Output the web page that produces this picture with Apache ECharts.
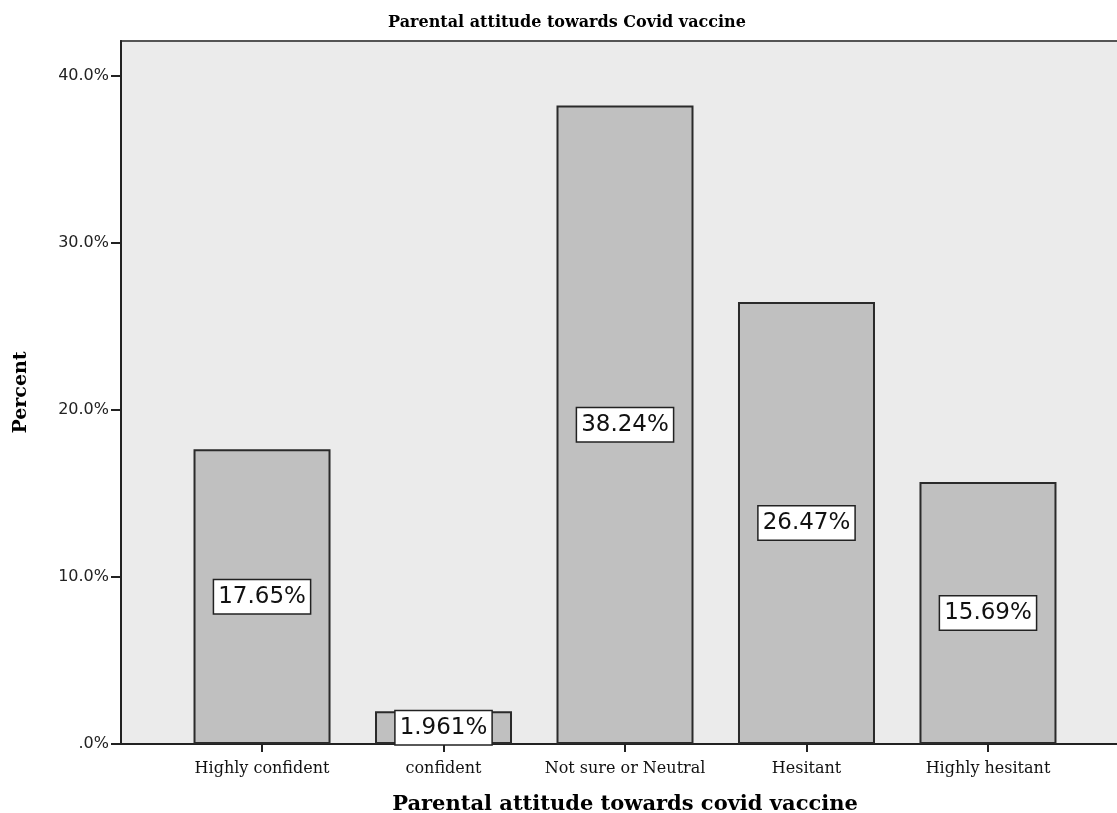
<!DOCTYPE html>
<html>
<head>
<meta charset="utf-8">
<script src="https://cdn.jsdelivr.net/npm/echarts@6/dist/echarts.min.js"></script>
<style>
  html, body { margin: 0; padding: 0; background: #fff; }
  #main { width: 1117px; height: 813px; }
</style>
</head>
<body>
<div id="main"></div>
<script>
// ---- data ----
var categories = ['Highly confident', 'confident', 'Not sure or Neutral', 'Hesitant', 'Highly hesitant'];
var percents = [17.65, 1.961, 38.24, 26.47, 15.69];
var barLabels = ['17.65%', '1.961%', '38.24%', '26.47%', '15.69%'];
var yTicks = [0, 10, 20, 30, 40];
var yTickLabels = ['.0%', '10.0%', '20.0%', '30.0%', '40.0%'];

var chart = echarts.init(document.getElementById('main'));

// bars sit on a value x axis so the frame can run wider than the five bands
var barData = percents.map(function (v, i) { return [i, v]; });

var option = {
    animation: false,
    backgroundColor: '#ffffff',
    title: {
        text: 'Parental attitude towards Covid vaccine',
        left: 562,
        textAlign: 'center',
        top: 10,
        textStyle: { fontFamily: 'DejaVu Serif', fontSize: 16, fontWeight: 'bold', color: '#000' }
    },
    grid: {
        left: 121,
        top: 41,
        right: -12,
        bottom: 69,
        containLabel: false,
        outerBoundsMode: 'none',
        show: true,
        backgroundColor: '#ebebeb',
        borderColor: '#555',
        borderWidth: 2
    },
    xAxis: {
        type: 'value',
        min: -0.777,
        max: 4.777,
        splitLine: { show: false },
        axisLine: { show: true, onZero: false, lineStyle: { color: '#222', width: 2 } },
        axisTick: { show: true, customValues: [0, 1, 2, 3, 4], length: 8, lineStyle: { color: '#222', width: 2 } },
        axisLabel: {
            customValues: [0, 1, 2, 3, 4],
            formatter: function (v) { return categories[Math.round(v)]; },
            fontFamily: 'DejaVu Serif',
            fontSize: 16,
            color: '#111',
            margin: 17
        },
        name: 'Parental attitude towards covid vaccine',
        nameLocation: 'middle',
        nameGap: 50,
        nameTextStyle: { fontFamily: 'DejaVu Serif', fontSize: 21, fontWeight: 'bold', color: '#000' }
    },
    yAxis: {
        type: 'value',
        min: 0,
        max: 42.1,
        splitLine: { show: false },
        axisLine: { show: true, onZero: false, lineStyle: { color: '#222', width: 2 } },
        axisTick: { show: true, customValues: yTicks, length: 10, lineStyle: { color: '#222', width: 2 } },
        axisLabel: {
            customValues: yTicks,
            formatter: function (v) { return yTickLabels[yTicks.indexOf(Math.round(v))]; },
            fontFamily: 'DejaVu Sans',
            fontSize: 16,
            color: '#222',
            margin: 12
        },
        name: 'Percent',
        nameLocation: 'middle',
        nameGap: 90,
        nameRotate: 90,
        nameTextStyle: { fontFamily: 'DejaVu Serif', fontSize: 19, fontWeight: 'bold', color: '#000' }
    },
    series: [{
        type: 'bar',
        data: barData,
        barWidth: 137,
        itemStyle: { color: '#c0c0c0', borderColor: '#2a2a2a', borderWidth: 2 },
        label: {
            show: true,
            position: 'inside',
            formatter: function (p) { return barLabels[p.dataIndex]; },
            fontFamily: 'DejaVu Sans',
            fontSize: 23,
            color: '#111',
            backgroundColor: '#fff',
            borderColor: '#222',
            borderWidth: 1.5,
            padding: [6, 4, 4, 4]
        }
    }]
};

chart.setOption(option);
</script>
</body>
</html>
